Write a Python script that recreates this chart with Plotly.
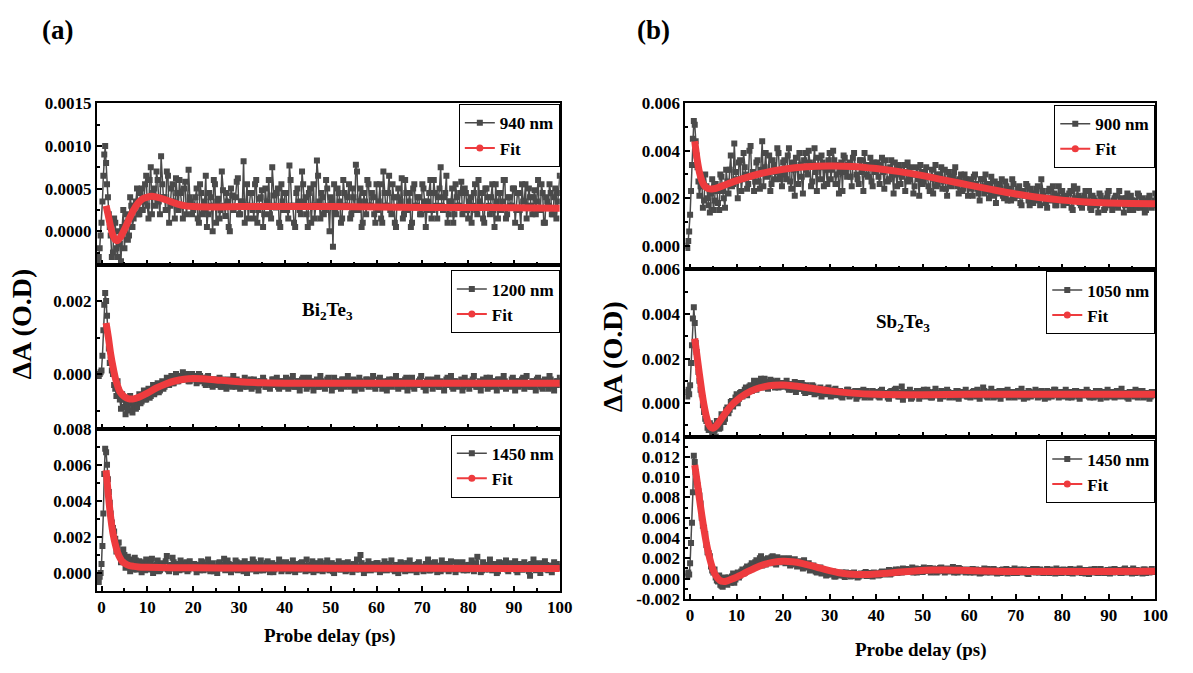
import numpy as np
import plotly.graph_objects as go

# ---------------------------------------------------------------------------
# Probe delays (ps): fine sampling around time zero, then two interleaved
# 0.5 ps grids (x.0/x.5 and x.25/x.75) giving 0.25 ps spacing overall
# ---------------------------------------------------------------------------
EARLY_DELAY = [-0.8, -0.6, -0.4, -0.2, 0.0, 0.2, 0.4, 0.6, 0.8, 1.0, 1.2, 1.4, 1.6, 1.8]
delay_main = np.concatenate([EARLY_DELAY, np.arange(2.0, 100.001, 0.5)])
delay_mid = np.arange(2.25, 99.76, 0.5)

UNIT = 1e-5  # all ΔA values below are given in units of 1e-5 O.D.

# ---------------------------- Bi2Te3 -------------------------------------
bi_940 = [
    -35, -30, -20, -5, 10, 35, 65, 90, 100, 80, 55, 40, 20, 5,
    -5, -25, 10, -30, -15, 5, -20, 20, -5, 30, 15, 35, 20,
    45, 25, 55, 30, 60, 20, 50, 70, 35, 88, 40, 25, 65, 30, 55, 15, 45, 60, 30, 50, 20, 72, 35, 25,
    40, 15, 55, 20, 35, 5, 45, 30, 60, 10, 38, 25, 48, 18, 35, 0, 42, 28, 58, 20,
    35, 82, 30, 15, 45, 25, 55, 10, 38, 48, 20, 33, 60, 15, 42, 28, 50, 5, 35, 45,
    25, 77, 30, 10, 45, 35, 20, 55, 40, 5, 50, 30, 15, 83, 35, 45, 20, 60, 30, 40,
    -18, 25, 50, 35, 15, 45, 30, 55, 20, 40, 78, 25, 50, 10, 35, 60, 30, 45, 20, 55,
    35, 15, 70, 30, 45, 25, 55, 10, 40, 30, 62, 20, 45, 35, 5, 50, 30, 40, 20, 55,
    35, 25, 45, 15, 60, 30, 40, 75, 25, 45, 10, 35, 50, 20, 40, 30, 58, 25, 45, 15,
    40, 30, 55, 20, 35, 45, 10, 50, 30, 40, 25, 55, 15, 45, 35, 60, 20, 40, 30, 50,
    25, 45, 5, 35, 55, 30, 40, 20, 48, 35, 25, 55, 10, 40, 30, 45, 20, 50, 35, 65,
]
bi_940_mid = [
    -30, 15, -20, 0, -35, 25, 10, -10, 40, 5, 30, 50,
    20, 50, 35, 65, 15, 75, 45, 30, 60, 20, 55, 40, 70, 10, 50, 35, 62, 25, 45, 15, 58, 30, 40, 20,
    30, 50, 10, 45, 25, 65, 20, 40, 0, 55, 35, 15, 70, 30, 45, 5, 50, 25, 40, 62,
    20, 35, 10, 55, 30, 45, 15, 60, 25, 40, 5, 50, 35, 20, 75, 30, 45, 10, 55, 25,
    45, 15, 60, 30, 5, 50, 25, 70, 35, 20, 45, 10, 55, 30, 65, 15, 40, 25, 50, 0,
    35, 55, 20, 45, 10, 60, 30, 40, 15, 50, 25, 70, 35, 5, 45, 20, 55, 30, 40, 10,
    25, 55, 10, 45, 30, 65, 20, 40, 5, 50, 35, 15, 60, 25, 45, 10, 55, 30, 40, 20,
    50, 5, 35, 60, 25, 45, 15, 50, 30, 40, 65, 20, 35, 10, 55, 30, 45, 20, 50, 25,
    35, 10, 45, 25, 60, 30, 15, 50, 40, 20, 55, 5, 35, 45, 25, 60, 15, 40, 30, 50,
    10, 45, 25, 55, 35, 15, 50, 30, 40, 20, 60, 25, 45, 10, 35, 55, 20, 40, 15, 45,
]
bi_940_fit_t = [1, 1.5, 2, 2.5, 3, 3.5, 4, 5, 6, 7, 8, 9, 10, 11, 12, 14, 16, 18, 20,
                25, 30, 40, 50, 60, 70, 80, 90, 100]
bi_940_fit = [30, 18, 5, -5, -10, -11, -8, 2, 14, 25, 33, 38, 40, 41, 40, 37, 33, 30, 29,
              28.5, 29, 29, 29, 28.5, 28, 28, 27.5, 27]

bi_1200 = [
    0, -5, 0, 5, 10, 50, 120, 190, 222, 200, 160, 110, 70, 30,
    40, 0, -40, -20, -70, -55, -90, -75, -100, -80, -85, -95, -70,
    -80, -60, -70, -50, -65, -45, -55, -35, -50, -30, -40, -25, -30, -15, -25, -10, -20, -5, -15, -10,
    0, -20, -5, -15,
    -10, -20, -5, -15, -25, -10, -20, -30, -15, -25, -20, -35, -15, -25, -30, -20, -35, -25, -15, -30,
    -20, -35, -25, -30, -15, -25, -35, -20, -30, -25, -20, -35, -25, -30, -15, -25, -35, -20, -30, -25,
    -20, -30, -15, -35, -25, -20, -30, -10, -25, -35, -20, -30, -25, -15, -35, -20, -30, -25, -10, -30,
    -35, -20, -25, -30, -15, -35, -25, -20, -30, -15, -25, -35, -20, -30, -25, -15, -30, -20, -35, -25,
    -15, -30, -25, -35, -20, -30, -15, -25, -35, -20, -30, -25, -10, -30, -20, -35, -25, -30, -15, -25,
    -35, -20, -30, -25, -15, -30, -35, -20, -25, -30, -10, -25, -35, -20, -30, -25, -15, -35, -20, -30,
    -25, -15, -30, -35, -20, -25, -30, -10, -35, -25, -20, -30, -15, -25, -35, -20, -30, -25, -15, -30,
    -20, -35, -25, -10, -30, -25, -35, -20, -30, -15, -25, -35, -20, -30, -40, -15, -25, -30, -20, -10,
]
bi_1200_mid = [
    10, -30, -60, -45, -95, -70, -110, -85, -60, -105, -75, -90,
    -55, -75, -45, -70, -40, -60, -30, -50, -25, -45, -20, -35, -10, -30, -5, -25, 0, -20, -10, 5,
    -15, -5, -20, 0,
    -5, -25, 0, -20, -10, -30, -5, -25, -35, -15, -30, -10, -35, -20, -40, -15, -30, -5, -35, -20,
    -40, -25, -10, -35, -20, -40, -15, -30, -45, -20, -10, -35, -25, -40, -15, -30, -10, -40, -20, -35,
    -10, -40, -25, -5, -35, -20, -45, -15, -30, -40, -10, -25, -45, -20, -35, -5, -30, -40, -15, -25,
    -45, -10, -35, -20, -40, -15, -30, -5, -35, -25, -45, -20, -10, -40, -30, -15, -35, -25, -5, -40,
    -30, -10, -40, -20, -45, -15, -35, -25, -5, -40, -20, -35, -15, -45, -25, -10, -40, -30, -20, -5,
    -35, -45, -15, -30, -40, -20, -10, -35, -25, -45, -15, -30, -5, -40, -20, -35, -25, -45, -10, -30,
    -40, -20, -5, -35, -25, -45, -15, -30, -40, -10, -35, -20, -45, -15, -30, -5, -40, -25, -35, -10,
    -45, -20, -30, -15, -40, -5, -25, -35, -20, -45, -10, -30, -40, -15, -25, -5, -35, -45, -20, -30,
]
bi_1200_fit_t = [1, 1.5, 2, 2.5, 3, 3.5, 4, 5, 6, 7, 8, 10, 12, 14, 16, 18, 20, 22, 25,
                 30, 35, 40, 50, 60, 70, 80, 90, 100]
bi_1200_fit = [140, 100, 55, 20, -10, -32, -48, -62, -68, -68, -64, -52, -38, -27, -19, -14,
               -12, -13, -16, -21, -24, -25, -25, -25, -25, -25, -25, -25]

bi_1450 = [
    -40, -50, -20, 0, 50, 150, 330, 550, 690, 670, 600, 520, 450, 390,
    330, 250, 190, 140, 110, 80, 100, 40, 75, 55, 20, 70, 45,
    30, 60, 15, 50, 35, 80, 25, 45, 10, 55, 30, 65, 20, 40, 85, 25, 50, 15, 45, 30, 60, 20, 50, 35,
    25, 45, 15, 60, 30, 40, 20, 50, 10, 35, 55, 25, 45, 15, 70, 30, 40, 20, 60, 25,
    45, 10, 35, 50, 20, 75, 30, 45, 15, 40, 25, 55, 20, 35, 5, 45, 30, 60, 20, 40,
    25, 50, 15, 35, 45, 20, 55, 30, 10, 40, 25, 65, 30, 15, 45, 35, 20, 55, 25, 40,
    10, 45, 30, 20, 55, 35, 15, 40, 25, 50, 20, 35, 100, 30, 15, 45, 25, 40, 20, 55,
    30, 15, 45, 25, 50, 20, 35, 10, 40, 30, 55, 20, 45, 25, 15, 40, 30, 50, 20, 35,
    25, 45, 15, 55, 30, 20, 40, 10, 35, 50, 25, 45, 20, 30, 60, 25, 40, 15, 35, 45,
    20, 40, 30, 90, 25, 15, 45, 35, 20, 50, 25, 40, 10, 35, 55, 30, 20, 45, 25, 40,
    15, 35, 50, 20, 30, 45, -15, 25, 40, 55, 20, 35, 30, 45, 15, 40, 25, 50, 30, 35,
]
bi_1450_mid = [
    280, 230, 120, 170, 60, 130, 30, 90, 10, 60, 85, 20,
    65, 5, 45, 75, 20, 55, 0, 40, 70, 15, 50, 25, 95, 10, 45, 60, 5, 40, 70, 20, 55, 10, 65, 35,
    50, 5, 40, 65, 15, 45, 75, 10, 55, 30, 0, 60, 35, 80, 20, 50, 5, 45, 70, 15,
    55, 30, 65, 0, 40, 25, 60, 10, 50, 70, 15, 40, 65, 5, 55, 20, 45, 75, 10, 50,
    60, 10, 40, 70, 5, 50, 20, 60, 35, 75, 15, 45, 5, 55, 25, 65, 10, 40, 70, 15,
    55, 0, 45, 65, 20, 50, 10, 60, 35, 5, 45, 75, 20, 55, 0, 40, 65, 15, 50, 30,
    55, 5, 40, 65, 15, 50, 70, 20, 45, 0, 60, 30, 10, 55, 70, 20, 45, 5, 60, 35,
    10, 50, 75, 15, 45, 60, 5, 40, 70, 20, 50, 10, 65, 30, 5, 55, 20, 60, 40, 15,
    45, 70, 10, 55, 30, 5, 60, 20, 45, 75, 15, 50, 0, 60, 25, 40, 70, 10, 55, 30,
    65, 5, 45, 20, 60, 35, 10, 50, 75, 15, 45, 0, 55, 65, 20, 40, 5, 60, 30, 50,
]
bi_1450_fit_t = [1, 1.5, 2, 2.5, 3, 3.5, 4, 4.5, 5, 6, 7, 8, 10, 15, 20, 30, 50, 70, 100]
bi_1450_fit = [570, 430, 310, 220, 160, 115, 85, 65, 55, 42, 37, 34, 32, 30, 29, 28, 27, 26, 25]

# ---------------------------- Sb2Te3 -------------------------------------
sb_900 = [
    0, -10, 20, 60, 130, 230, 340, 450, 525, 510, 440, 380, 330, 270,
    210, 280, 190, 250, 170, 220, 150, 260, 180, 300, 230, 160, 270,
    320, 250, 430, 280, 350, 230, 390, 300, 260, 420, 310, 270, 360, 240, 440, 330, 290, 380, 260, 340,
    310, 390, 280, 350,
    300, 380, 270, 350, 210, 330, 390, 290, 360, 320, 400, 250, 340, 310, 370, 280, 350, 330, 260, 390,
    320, 360, 300, 220, 350, 380, 310, 340, 290, 370, 330, 280, 360, 310, 390, 300, 340, 270, 350, 320,
    290, 340, 310, 360, 270, 330, 300, 350, 250, 320, 290, 340, 310, 270, 330, 220, 300, 280, 340, 260,
    310, 290, 230, 320, 280, 250, 300, 330, 270, 240, 310, 260, 290, 330, 250, 280, 230, 300, 260, 280,
    240, 290, 260, 220, 280, 250, 300, 230, 260, 210, 270, 240, 220, 280, 200, 250, 230, 190, 260, 220,
    240, 180, 230, 210, 250, 170, 220, 200, 240, 190, 280, 210, 180, 230, 200, 250, 170, 210, 190, 230,
    200, 180, 220, 160, 250, 190, 210, 170, 200, 230, 180, 160, 210, 190, 170, 220, 180, 150, 200, 230,
    170, 190, 210, 160, 180, 200, 170, 220, 150, 190, 180, 160, 210, 170, 190, 150, 200, 180, 170, 220,
]
sb_900_mid = [
    250, 160, 300, 200, 140, 280, 190, 230, 150, 290, 200, 320,
    220, 380, 260, 310, 200, 360, 280, 330, 240, 400, 290, 230, 350, 270, 320, 250, 390, 300, 230, 360,
    280, 410, 300, 250,
    360, 280, 410, 240, 320, 370, 260, 340, 220, 390, 300, 350, 270, 410, 230, 330, 380, 250, 320, 360,
    280, 400, 260, 340, 310, 230, 370, 290, 350, 250, 390, 300, 260, 360, 230, 340, 290, 370, 250, 310,
    350, 260, 370, 240, 320, 280, 360, 220, 300, 340, 260, 310, 230, 350, 280, 300, 250, 330, 210, 310,
    270, 330, 250, 290, 220, 340, 260, 300, 240, 320, 210, 290, 250, 310, 270, 220, 300, 240, 280, 210,
    270, 210, 300, 240, 190, 280, 220, 260, 200, 290, 230, 180, 260, 240, 210, 270, 190, 240, 280, 200,
    210, 250, 170, 230, 260, 190, 240, 180, 220, 250, 170, 230, 200, 160, 240, 190, 220, 170, 250, 200,
    170, 210, 190, 230, 150, 200, 240, 180, 160, 210, 190, 230, 150, 200, 170, 140, 210, 190, 160, 220,
    180, 150, 200, 170, 230, 190, 140, 200, 180, 210, 150, 190, 220, 160, 200, 140, 180, 210, 160, 190,
]
sb_900_fit_t = [1, 1.5, 2, 2.5, 3, 3.5, 4, 5, 6, 7, 8, 10, 12, 15, 20, 25, 30, 35, 40, 45,
                50, 55, 60, 65, 70, 75, 80, 85, 90, 95, 100]
sb_900_fit = [440, 365, 310, 275, 255, 245, 240, 240, 245, 252, 260, 274, 287, 303, 322, 333,
              336, 334, 325, 312, 295, 275, 255, 236, 218, 203, 192, 184, 180, 178, 177]

sb_1050 = [
    50, 30, 60, 40, 80, 180, 260, 380, 430, 360, 270, 230, 180, 140,
    100, 40, -40, -80, -120, -100, -130, -150, -90, -110, -60, -70, -20,
    -30, 10, 0, 40, 20, 50, 40, 70, 50, 80, 60, 90, 70, 100, 80, 110, 75, 90, 100, 80,
    95, 70, 85, 75,
    90, 70, 85, 60, 95, 75, 65, 90, 55, 80, 70, 50, 75, 60, 45, 70, 55, 40, 65, 50,
    35, 60, 45, 55, 30, 50, 40, 60, 35, 45, 55, 30, 50, 40, 25, 55, 45, 35, 50, 40,
    30, 55, 40, 45, 25, 50, 35, 60, 40, 30, 75, 45, 35, 50, 20, 45, 40, 55, 30, 45,
    35, 60, 40, 25, 50, 35, 45, 55, 30, 40, 50, 35, 45, 25, 55, 40, 35, 50, 30, 45,
    40, 55, 30, 45, 35, 70, 40, 25, 50, 35, 45, 30, 55, 40, 35, 45, 25, 50, 40, 35,
    55, 30, 45, 40, 25, 50, 35, 45, 40, 30, 55, 35, 45, 25, 50, 40, 60, 35, 45, 30,
    45, 35, 50, 25, 40, 55, 30, 45, 40, 35, 50, 25, 45, 40, 30, 55, 35, 45, 25, 40,
    50, 35, 45, 30, 55, 40, 35, 25, 50, 45, 30, 40, 55, 35, 25, 45, 40, 30, 50, 40,
]
sb_1050_mid = [
    60, -10, -70, -110, -90, -140, -120, -80, -115, -50, -85, -30,
    -45, 5, -15, 25, 0, 45, 30, 60, 35, 75, 55, 100, 60, 85, 110, 70, 95, 65, 105, 85,
    70, 100, 75, 90,
    75, 100, 60, 85, 70, 50, 90, 65, 80, 45, 70, 55, 80, 40, 65, 50, 30, 60, 45, 70,
    30, 50, 65, 35, 55, 25, 45, 60, 30, 50, 40, 20, 55, 35, 60, 30, 45, 25, 55, 35,
    50, 25, 60, 35, 45, 20, 55, 40, 65, 30, 45, 15, 50, 35, 60, 25, 45, 55, 20, 40,
    60, 30, 50, 25, 45, 65, 35, 20, 50, 40, 60, 25, 45, 30, 55, 20, 50, 35, 60, 30,
    25, 50, 35, 60, 20, 45, 55, 30, 40, 65, 25, 50, 35, 20, 55, 40, 60, 30, 45, 25,
    50, 35, 65, 20, 45, 55, 30, 40, 60, 25, 50, 35, 20, 55, 40, 30, 60, 45, 25, 50,
    35, 60, 25, 45, 30, 55, 40, 20, 50, 35, 60, 30, 45, 25, 55, 40, 20, 50, 35, 60,
    30, 45, 25, 55, 40, 65, 30, 45, 20, 50, 35, 60, 25, 45, 55, 30, 40, 20, 50, 35,
]
sb_1050_fit_t = [1, 1.5, 2, 2.5, 3, 3.5, 4, 4.5, 5, 5.5, 6, 7, 8, 9, 10, 12, 14, 16, 18, 20,
                 22, 25, 30, 35, 40, 50, 60, 70, 80, 90, 100]
sb_1050_fit = [290, 210, 130, 55, -10, -60, -95, -110, -112, -105, -92, -62, -33, -8, 12, 42,
               62, 74, 80, 81, 78, 70, 55, 45, 40, 38, 40, 40, 40, 40, 40]

sb_1450 = [
    50, 20, 60, 40, 150, 350, 550, 850, 1210, 1150, 1050, 980, 920, 860,
    820, 600, 500, 330, 250, 120, 60, 10, -30, -60, -80, 10, -60,
    -30, 20, -40, 40, 10, 70, 50, 100, 80, 130, 110, 160, 140, 200, 130, 190, 170, 150, 210, 160,
    140, 190, 170, 200,
    150, 180, 130, 170, 190, 120, 160, 140, 180, 110, 150, 90, 130, 70, 100, 110, 60, 80, 40, 70,
    50, 20, 60, 40, 50, 30, 60, 35, 20, 50, 40, 10, 45, 30, 55, 25, 50, 35, 60, 40,
    30, 60, 45, 55, 70, 40, 65, 80, 55, 90, 60, 75, 95, 70, 85, 60, 100, 75, 90, 65,
    95, 80, 105, 70, 85, 60, 95, 110, 75, 90, 70, 85, 115, 80, 60, 95, 75, 85, 65, 90,
    75, 60, 90, 70, 55, 85, 65, 95, 60, 75, 80, 50, 70, 85, 60, 95, 65, 75, 55, 80,
    70, 90, 60, 75, 50, 85, 65, 70, 95, 60, 75, 55, 80, 65, 90, 70, 50, 75, 85, 60,
    70, 85, 55, 75, 65, 90, 60, 80, 70, 50, 85, 65, 75, 95, 60, 70, 80, 55, 75, 65,
    90, 60, 70, 85, 55, 75, 100, 65, 80, 50, 70, 85, 60, 75, 90, 55, 70, 80, 65, 75,
]
sb_1450_mid = [
    740, 520, 440, 260, 220, 80, 90, -20, 30, -70, 0, -50,
    10, -40, 50, -10, 60, 30, 90, 60, 120, 90, 150, 120, 180, 150, 220, 170, 140, 200, 180, 220,
    150, 210, 180, 160,
    190, 160, 200, 140, 180, 150, 130, 170, 100, 140, 120, 80, 110, 90, 60, 90, 50, 70, 30, 60,
    40, 70, 20, 50, 30, 60, 15, 45, 55, 25, 60, 30, 20, 50, 40, 65, 30, 55, 20, 50,
    50, 35, 70, 40, 60, 85, 50, 70, 90, 60, 80, 100, 65, 85, 70, 110, 80, 60, 95, 70,
    110, 75, 90, 60, 100, 80, 70, 105, 85, 60, 100, 75, 95, 60, 85, 105, 70, 90, 60, 80,
    60, 95, 70, 85, 50, 75, 100, 60, 85, 70, 95, 60, 80, 55, 90, 70, 50, 85, 65, 100,
    55, 80, 65, 90, 70, 45, 80, 95, 60, 75, 90, 60, 70, 95, 55, 80, 65, 100, 70, 55,
    90, 60, 75, 95, 50, 80, 65, 100, 55, 85, 70, 45, 90, 60, 80, 55, 95, 70, 60, 85,
    50, 80, 95, 65, 75, 55, 90, 60, 85, 70, 100, 55, 80, 65, 50, 90, 75, 60, 95, 70,
]
sb_1450_fit_t = [1, 1.5, 2, 2.5, 3, 3.5, 4, 4.5, 5, 5.5, 6, 6.5, 7, 7.5, 8, 9, 10, 12, 14, 16,
                 18, 20, 22, 24, 26, 28, 30, 32, 34, 36, 38, 40, 43, 46, 49, 52, 55, 58, 61,
                 65, 70, 80, 90, 100]
sb_1450_fit = [1120, 960, 790, 630, 480, 350, 240, 150, 80, 30, 0, -20, -28, -28, -22, -5, 15,
               60, 105, 140, 162, 170, 165, 150, 128, 102, 78, 58, 45, 40, 41, 46, 56, 68, 78,
               84, 85, 82, 78, 73, 70, 70, 71, 72]

# ---------------------------------------------------------------------------
SERIF = "Liberation Serif, Times New Roman, serif"
GRAY = "#4a4a4a"
RED = "#ee3b3e"

def px_x(p):
    return p / 1193.0

def px_y(p):
    return 1.0 - p / 673.0

# panel layout: (series, quarter-point series, fit t, fit, legend label, x domain,
#                y domain (px), y range, y tick values, y tick text, minor step,
#                legend anchor (px), bottom row?)
A_X = [px_x(98), px_x(566)]
B_X = [px_x(693), px_x(1168)]

panels = [
    (bi_940, bi_940_mid, bi_940_fit_t, bi_940_fit, "940 nm", A_X, (97, 263), [-0.00039, 0.0015],
     [0, 0.0005, 0.001, 0.0015], ["0.0000", "0.0005", "0.0010", "0.0015"], 0.00025, (566, 98), False),
    (bi_1200, bi_1200_mid, bi_1200_fit_t, bi_1200_fit, "1200 nm", A_X, (263, 432), [-0.0015, 0.003],
     [0, 0.002], ["0.000", "0.002"], 0.001, (566, 269), False),
    (bi_1450, bi_1450_mid, bi_1450_fit_t, bi_1450_fit, "1450 nm", A_X, (432, 599), [-0.001, 0.008],
     [0, 0.002, 0.004, 0.006, 0.008], ["0.000", "0.002", "0.004", "0.006", "0.008"], 0.001,
     (566, 438), True),
    (sb_900, sb_900_mid, sb_900_fit_t, sb_900_fit, "900 nm", B_X, (97, 268), [-0.001, 0.006],
     [0, 0.002, 0.004, 0.006], ["0.000", "0.002", "0.004", "0.006"], 0.001, (1168, 99), False),
    (sb_1050, sb_1050_mid, sb_1050_fit_t, sb_1050_fit, "1050 nm", B_X, (268, 440), [-0.0015, 0.006],
     [0, 0.002, 0.004, 0.006], ["0.000", "0.002", "0.004", "0.006"], 0.001, (1168, 270), False),
    (sb_1450, sb_1450_mid, sb_1450_fit_t, sb_1450_fit, "1450 nm", B_X, (440, 607), [-0.002, 0.014],
     [-0.002, 0, 0.002, 0.004, 0.006, 0.008, 0.010, 0.012, 0.014],
     ["-0.002", "0.000", "0.002", "0.004", "0.006", "0.008", "0.010", "0.012", "0.014"], 0.001,
     (1168, 444), True),
]

fig = go.Figure()
layout = {}

all_delay = np.concatenate([delay_main, delay_mid])
order = np.argsort(all_delay, kind="stable")

for i, (series, series_mid, fit_t, fit_v, label, xdom, ydom, yrange, tv, tt, minor, leg, bottom) in enumerate(panels, start=1):
    assert len(series) == len(delay_main), (label, len(series), len(delay_main))
    assert len(series_mid) == len(delay_mid), (label, len(series_mid), len(delay_mid))
    assert len(fit_t) == len(fit_v), (label, len(fit_t), len(fit_v))
    xa = "x" if i == 1 else f"x{i}"
    ya = "y" if i == 1 else f"y{i}"
    lg = "legend" if i == 1 else f"legend{i}"

    values = np.concatenate([series, series_mid]) * UNIT
    fig.add_trace(go.Scatter(
        x=all_delay[order], y=values[order], mode="lines+markers", name=label,
        line=dict(color=GRAY, width=1.5), marker=dict(symbol="square", size=6, color=GRAY),
        xaxis=xa, yaxis=ya, legend=lg))
    fig.add_trace(go.Scatter(
        x=fit_t, y=np.array(fit_v) * UNIT, mode="lines", name="Fit", showlegend=False,
        line=dict(color=RED, width=7, shape="spline", smoothing=0.8),
        xaxis=xa, yaxis=ya, legend=lg))
    # legend entry for the fit curve (thin line + circle symbol)
    fig.add_trace(go.Scatter(
        x=[None], y=[None], mode="lines+markers", name="Fit",
        line=dict(color=RED, width=2), marker=dict(symbol="circle", size=7, color=RED),
        xaxis=xa, yaxis=ya, legend=lg))

    tickfont = dict(family=SERIF, size=17, color="black", weight="bold")
    layout["xaxis" if i == 1 else f"xaxis{i}"] = dict(
        domain=xdom, anchor=ya, range=[-1, 100], tick0=0, dtick=10,
        ticks="inside", ticklen=5, tickwidth=1.5, tickcolor="black",
        minor=dict(ticks="inside", ticklen=3, dtick=5, tickcolor="black"),
        showticklabels=bottom, tickfont=tickfont,
        showline=True, linecolor="black", linewidth=2, mirror=True,
        showgrid=False, zeroline=False)
    layout["yaxis" if i == 1 else f"yaxis{i}"] = dict(
        domain=[px_y(ydom[1]), px_y(ydom[0])], anchor=xa, range=yrange,
        tickvals=tv, ticktext=tt, ticks="inside", ticklen=5, tickwidth=1.5, tickcolor="black",
        minor=dict(ticks="inside", ticklen=3, dtick=minor, tick0=0, tickcolor="black"),
        tickfont=tickfont, showline=True, linecolor="black", linewidth=2, mirror=True,
        showgrid=False, zeroline=False)
    layout[lg] = dict(
        x=px_x(leg[0]), y=px_y(leg[1]), xanchor="right", yanchor="top",
        bgcolor="white", bordercolor="black", borderwidth=1, tracegroupgap=0,
        font=dict(family=SERIF, size=17, color="black", weight="bold"))

def note(text, x, y, size, angle=0):
    return dict(text=text, x=px_x(x), y=px_y(y), xref="paper", yref="paper",
                showarrow=False, textangle=angle, xanchor="center", yanchor="middle",
                font=dict(family=SERIF, size=size, color="black", weight="bold"))

annotations = [
    note("(a)", 58, 22, 27),
    note("(b)", 661, 22, 27),
    note("ΔA (O.D)", 22, 324, 28, -90),
    note("ΔA (O.D)", 620, 358, 28, -90),
    note("Probe delay (ps)", 334, 645, 19),
    note("Probe delay (ps)", 931, 660, 19),
    note("Bi<sub>2</sub>Te<sub>3</sub>", 331, 311, 19),
    note("Sb<sub>2</sub>Te<sub>3</sub>", 913, 323, 19),
]

fig.update_layout(
    width=1193, height=673, margin=dict(l=0, r=0, t=0, b=0),
    paper_bgcolor="white", plot_bgcolor="white",
    font=dict(family=SERIF, color="black"),
    annotations=annotations, hovermode=False,
    **layout)

fig.write_html("out.html")
